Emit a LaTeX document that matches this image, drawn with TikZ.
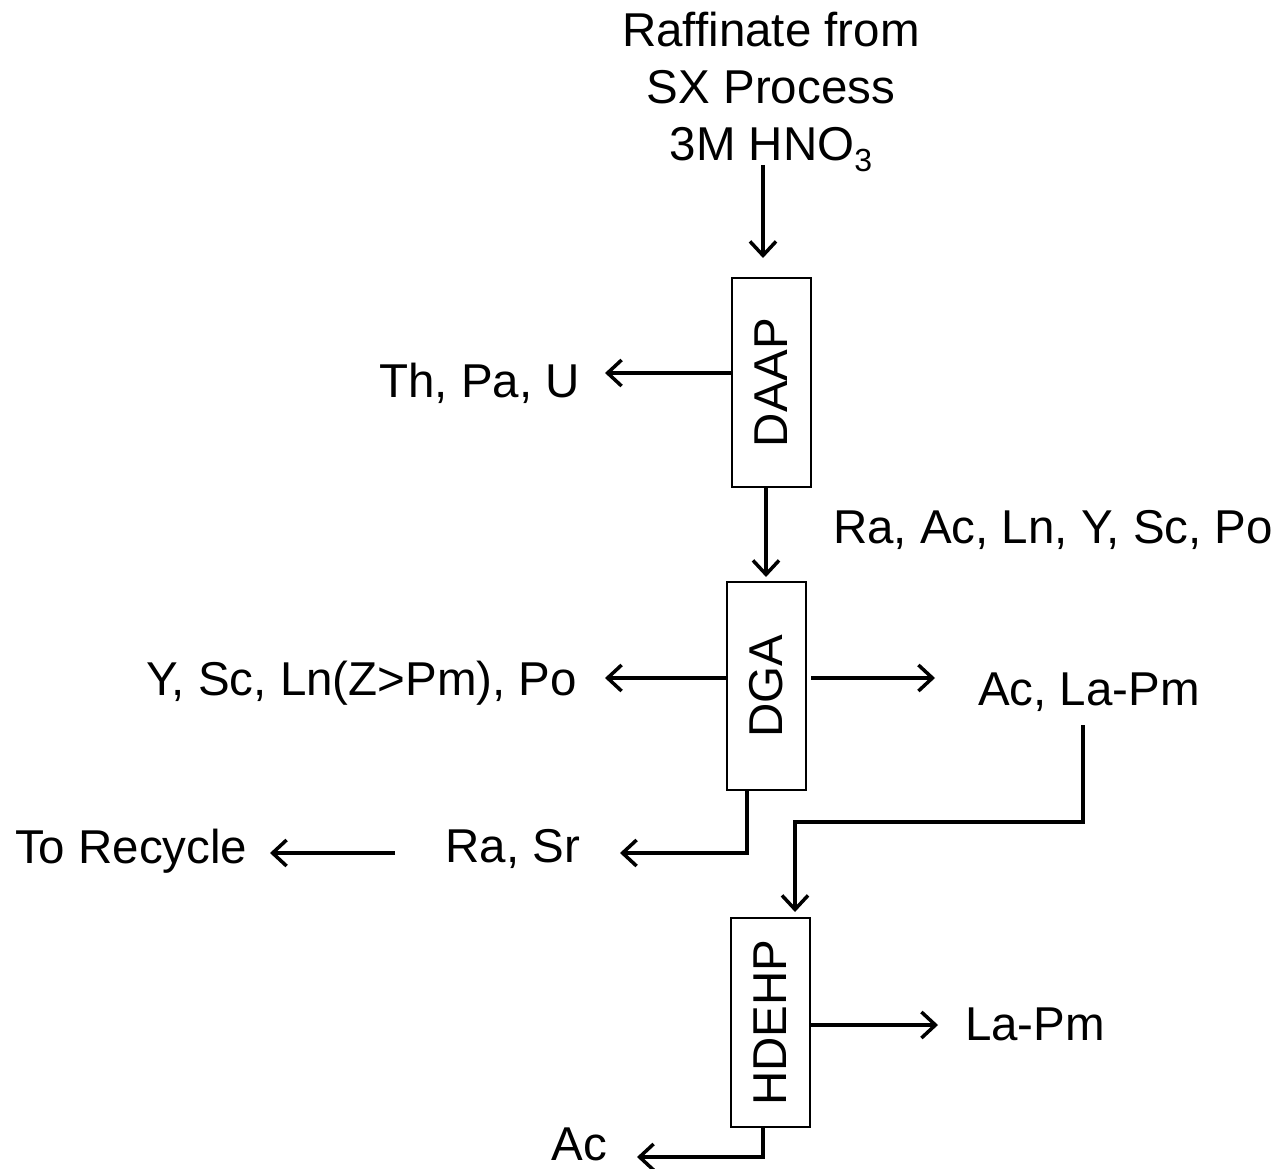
\documentclass[tikz,border=0pt]{standalone}
\usepackage{fontspec}
\setmainfont{Liberation Sans}
\usetikzlibrary{arrows.meta}
\begin{document}
\begin{tikzpicture}[x=1pt,y=-1pt,
  font=\fontsize{47.5}{57.5}\selectfont,
  box/.style={draw, line width=1.5pt, minimum width=79pt, inner sep=0pt},
  lbl/.style={inner sep=0pt, outer sep=0pt},
  arr/.style={line width=3.5pt, -{Straight Barb[length=14pt,width=26pt,line width=3.5pt]}},
  ln/.style={line width=3.5pt}]
\useasboundingbox (0,0) rectangle (1274,1169);
% feed text
\node[lbl, anchor=base] (feed1) at (771,47) {Raffinate from};
\node[lbl, anchor=base] (feed2) at (771,104) {SX Process};
\node[lbl, anchor=base] (feed3) at (771,161) {3M HNO\raisebox{-11pt}{\fontsize{32}{32}\selectfont 3}};
% boxes
\node[box, minimum height=209pt] (daap) at (771.5,382.5) {\rotatebox{90}{DAAP}};
\node[box, minimum height=208pt] (dga) at (766.5,686) {\rotatebox{90}{DGA}};
\node[box, minimum height=209pt] (hdehp) at (770.5,1022.5) {\rotatebox{90}{HDEHP}};
% labels
\node[lbl, anchor=base east] (thpa) at (580,397) {Th, Pa, U};
\node[lbl, anchor=base west] (raac) at (833,543) {Ra, Ac, Ln, Y, Sc, Po};
\node[lbl, anchor=base east] (ysc) at (577,695) {Y, Sc, Ln(Z>Pm), Po};
\node[lbl, anchor=base west] (acla) at (978,705) {Ac, La-Pm};
\node[lbl, anchor=base east] (rasr) at (580,862) {Ra, Sr};
\node[lbl, anchor=base west] (recycle) at (15,863) {To Recycle};
\node[lbl, anchor=base west] (lapm) at (965,1040) {La-Pm};
\node[lbl, anchor=base east] (ac) at (607,1160) {Ac};
% connector coordinates
\coordinate (f0) at (763,165);
\coordinate (f1) at (763,258);
\coordinate (d1) at (daap.west |- 0,373);
\coordinate (d1e) at (605,373);
\coordinate (d2) at (766,487);
\coordinate (d2e) at (766,577);
\coordinate (g1) at (dga.west |- 0,678);
\coordinate (g1e) at (605,678);
\coordinate (g2) at (811,678);
\coordinate (g2e) at (935,678);
\coordinate (g3) at (747,790);
\coordinate (g3b) at (747,853);
\coordinate (g3e) at (620,853);
\coordinate (r0) at (395,853);
\coordinate (r1) at (270,853);
\coordinate (a0) at (1083,725);
\coordinate (a1) at (1083,822);
\coordinate (a2) at (795,822);
\coordinate (a3) at (795,912);
\coordinate (h1) at (hdehp.east |- 0,1025);
\coordinate (h1e) at (938,1025);
\coordinate (h2) at (763,1127);
\coordinate (h2b) at (763,1157);
\coordinate (h2e) at (637,1157);
% connectors
\draw[arr] (f0) -- (f1);
\draw[arr] (d1) -- (d1e);
\draw[arr] (d2) -- (d2e);
\draw[arr] (g1) -- (g1e);
\draw[arr] (g2) -- (g2e);
\draw[arr] (g3) -- (g3b) -- (g3e);
\draw[arr] (r0) -- (r1);
\draw[arr] (a0) -- (a1) -- (a2) -- (a3);
\draw[arr] (h1) -- (h1e);
\draw[arr] (h2) -- (h2b) -- (h2e);
\end{tikzpicture}
\end{document}
